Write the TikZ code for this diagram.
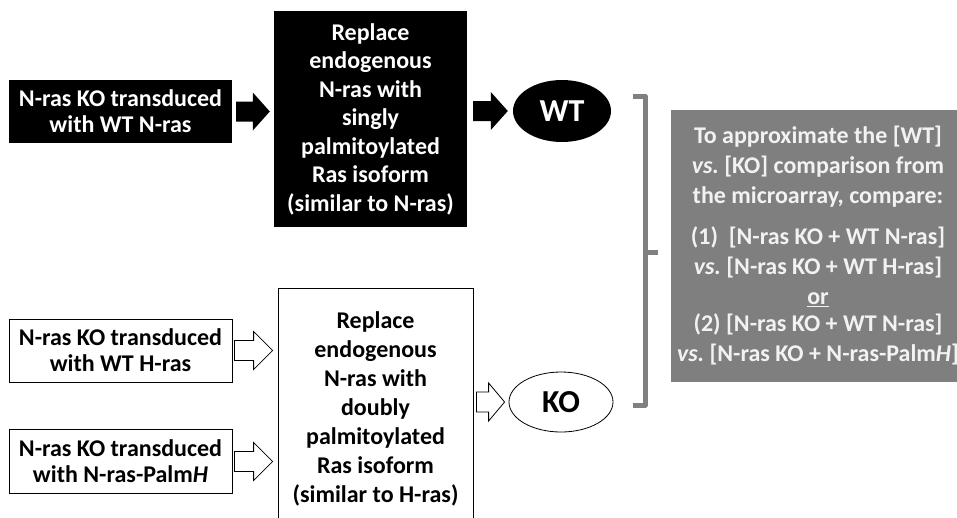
\documentclass[tikz,border=0pt]{standalone}
\usepackage{fontspec}
\setmainfont{Carlito}
\usetikzlibrary{calc,shapes.geometric}
\definecolor{notegray}{HTML}{7F7F7F}
\definecolor{notetext}{HTML}{F2F2F2}
\definecolor{brackgray}{HTML}{808080}
\newcommand\blockarrow[4]{% #1 options, #2 tail, #3 tip, #4 head length
  \path[#1] let \p1=(#2), \p2=(#3) in
    (\x1,\y1+10pt) -- (\x2-#4,\y1+10pt) -- (\x2-#4,\y1+19pt) -- (\x2,\y1)
    -- (\x2-#4,\y1-19pt) -- (\x2-#4,\y1-10pt) -- (\x1,\y1-10pt) -- cycle;}
\begin{document}
\frenchspacing
\begin{tikzpicture}[x=1pt,y=-1pt,
  txt/.style={font=\bfseries\fontsize{24}{26}\selectfont, align=center, inner sep=0pt},
  blackbox/.style={txt, fill=black, text=white},
  whitebox/.style={txt, draw=black, line width=0.8pt, fill=white, text=black},
  blackarr/.style={fill=black},
  openarr/.style={draw=black, line width=0.8pt, fill=white, line join=miter},
  oval/.style={ellipse, font=\bfseries\fontsize{32}{36}\selectfont, inner sep=0pt}]
\useasboundingbox (0,0) rectangle (957,517);
\fill[white] (0,0) rectangle (957,517);

% top row
\node[blackbox, minimum width=223pt, minimum height=63pt] (b1) at (120.5,111.5)
  {N-ras KO transduced\\with WT N-ras};
\node[blackbox, minimum width=193pt, minimum height=216pt,
      font=\bfseries\fontsize{24}{28.5}\selectfont] (b2) at (370.5,119)
  {Replace\\endogenous\\N-ras with\\singly\\palmitoylated\\Ras isoform\\(similar to N-ras)};
\node[oval, fill=black, text=white, minimum width=98pt, minimum height=62pt] (wt) at (562,111) {WT};

% bottom row
\node[whitebox, minimum width=223pt, minimum height=63pt] (b3) at (120.5,350.5)
  {N-ras KO transduced\\with WT H-ras};
\node[whitebox, minimum width=223pt, minimum height=64pt] (b4) at (120.5,461.5)
  {N-ras KO transduced\\with N-ras-Palm\textit{H}};
\node[whitebox, minimum width=195pt, minimum height=242pt,
      font=\bfseries\fontsize{24}{29}\selectfont] (b5) at (375.5,409)
  {Replace\\endogenous\\N-ras with\\doubly\\palmitoylated\\Ras isoform\\(similar to H-ras)};
\node[oval, draw=black, line width=0.8pt, fill=white, minimum width=104pt, minimum height=60pt] (ko) at (561,402) {KO};

% block arrows
\coordinate (a1t) at ([xshift=4pt]b1.east);
\coordinate (a1h) at ([xshift=-4pt]b2.west |- b1.east);
\blockarrow{blackarr}{a1t}{a1h}{17pt}
\coordinate (a2t) at ([xshift=6pt]b2.east |- wt.west);
\coordinate (a2h) at ([xshift=-5pt]wt.west);
\blockarrow{blackarr}{a2t}{a2h}{17pt}
\coordinate (a3t) at ([xshift=2pt]b3.east);
\coordinate (a3h) at ([xshift=-5pt]b5.west |- b3.east);
\blockarrow{openarr}{a3t}{a3h}{19pt}
\coordinate (a4t) at ([xshift=2pt]b4.east);
\coordinate (a4h) at ([xshift=-5pt]b5.west |- b4.east);
\blockarrow{openarr}{a4t}{a4h}{19pt}
\coordinate (a5t) at ([xshift=3pt]b5.east |- ko.west);
\coordinate (a5h) at ([xshift=-4pt]ko.west);
\blockarrow{openarr}{a5t}{a5h}{16pt}

% bracket
\draw[brackgray, line width=5pt, line join=round] (633,96) -- (645,96) -- (645,405) -- (633,405);
\draw[brackgray, line width=5pt] (645,252) -- (658,252);

% note box
\node[txt, fill=notegray, text=notetext, minimum width=294pt, minimum height=272pt,
      font=\bfseries\fontsize{24}{30}\selectfont] (note) at (818,246)
  {To approximate the [WT]\\\textit{vs.} [KO] comparison from\\the microarray, compare:\\[11pt]
   (1)\ \ [N-ras KO + WT N-ras]\\\textit{vs.} [N-ras KO + WT H-ras]\\\underline{or}\\[-3pt]
   (2) [N-ras KO + WT N-ras]\\\textit{vs.} [N-ras KO + N-ras-Palm\textit{H}]};
\end{tikzpicture}
\end{document}
